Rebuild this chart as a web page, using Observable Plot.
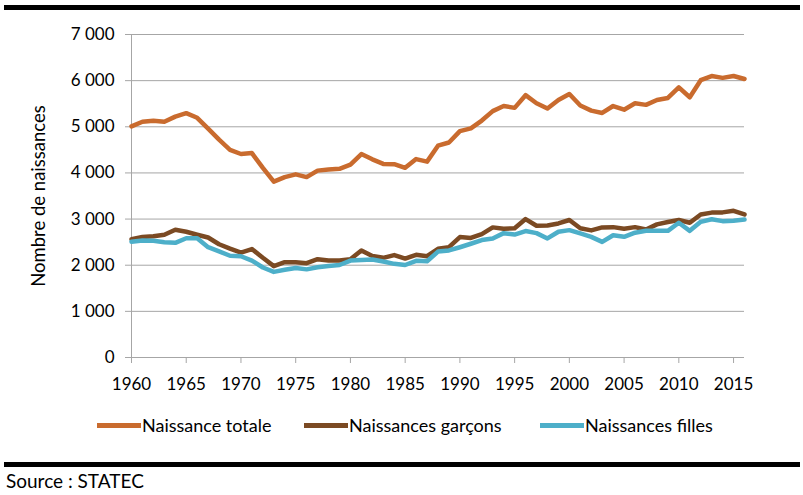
<!DOCTYPE html>
<html>
<head>
<meta charset="utf-8">
<script src="https://cdn.jsdelivr.net/npm/d3@7"></script>
<script src="https://cdn.jsdelivr.net/npm/@observablehq/plot@0.6"></script>
<style>
  html, body { margin: 0; padding: 0; background: #fff; }
  body { position: relative; width: 803px; height: 495px; overflow: hidden; font-family: Lato, "Open Sans", sans-serif; }
  .bar { position: absolute; left: 4px; width: 796px; height: 5px; background: #000; }
  #chart { position: absolute; left: 0; top: 10px; }
  .leg { position: absolute; top: 414px; height: 22px; font-size: 18px; color: #000; line-height: 22px; }
  .sw { position: absolute; top: 9px; height: 5px; width: 44px; }
  .lt { position: absolute; white-space: nowrap; }
  #source { position: absolute; left: 6px; top: 469px; font-size: 19px; color: #000; }
</style>
</head>
<body>
<div class="bar" style="top:5px"></div>
<div id="chart"></div>
<div id="legend"></div>
<div class="bar" style="top:462px"></div>
<div id="source">Source : STATEC</div>
<script>
const years = [1960,1961,1962,1963,1964,1965,1966,1967,1968,1969,
  1970,1971,1972,1973,1974,1975,1976,1977,1978,1979,
  1980,1981,1982,1983,1984,1985,1986,1987,1988,1989,
  1990,1991,1992,1993,1994,1995,1996,1997,1998,1999,
  2000,2001,2002,2003,2004,2005,2006,2007,2008,2009,
  2010,2011,2012,2013,2014,2015,2016];
const totale = [5010,5110,5130,5110,5220,5295,5195,4960,4720,4500,
  4410,4430,4110,3810,3910,3970,3910,4050,4075,4090,
  4180,4410,4295,4195,4190,4110,4300,4245,4590,4660,
  4905,4965,5135,5340,5450,5410,5685,5510,5395,5580,
  5710,5460,5350,5300,5450,5370,5510,5475,5580,5625,
  5855,5640,6010,6100,6060,6100,6035];
const garcons = [2565,2610,2630,2660,2770,2725,2660,2600,2455,2360,
  2275,2350,2160,1980,2065,2065,2045,2130,2100,2100,
  2130,2320,2200,2160,2220,2145,2225,2195,2355,2390,
  2610,2590,2675,2820,2790,2800,3000,2855,2860,2905,
  2980,2800,2755,2820,2825,2790,2825,2775,2885,2935,
  2980,2920,3100,3140,3145,3180,3100];
const filles = [2510,2535,2530,2500,2485,2585,2585,2390,2300,2205,
  2195,2100,1950,1855,1900,1940,1910,1955,1985,2005,
  2100,2115,2125,2080,2030,2005,2095,2085,2295,2320,
  2390,2465,2545,2580,2695,2665,2740,2695,2580,2725,
  2760,2690,2615,2505,2650,2615,2705,2745,2745,2745,
  2920,2745,2940,2995,2955,2965,2990];
const seriesNames = ["Naissance totale", "Naissances garçons", "Naissances filles"];
const seriesValues = [totale, garcons, filles];
const colors = ["#C96B2E", "#7B4A23", "#4DAFC9"];
const xTicks = [1960,1965,1970,1975,1980,1985,1990,1995,2000,2005,2010,2015];
const yTicks = [0,1000,2000,3000,4000,5000,6000,7000];
const yTitle = "Nombre de naissances";

const rows = [];
seriesNames.forEach((name, i) => {
  years.forEach((yr, j) => rows.push({series: name, year: yr, value: seriesValues[i][j]}));
});

const fmt = v => d3.format(",")(v).replace(/,/g, " ");
const grid = "#a6a6a6";

const plot = Plot.plot({
  width: 803,
  height: 390,
  marginLeft: 131,
  marginRight: 59,
  marginTop: 24,
  marginBottom: 43,
  style: {fontFamily: "Lato, 'Open Sans', sans-serif", fontSize: "17px", color: "#000", background: "transparent"},
  x: {domain: [1960, 2016]},
  y: {domain: [0, 7000]},
  marks: [
    Plot.gridY(yTicks, {stroke: grid, strokeOpacity: 1, strokeWidth: 1}),
    Plot.ruleX([1960], {stroke: grid, strokeWidth: 1}),
    Plot.ruleY([0], {stroke: grid, strokeWidth: 1}),
    Plot.axisX({ticks: xTicks, tickFormat: d => String(d), tickSize: 6, tickPadding: 14, stroke: grid, fill: "#000", fontSize: 17, label: null}),
    Plot.axisY({ticks: yTicks, tickFormat: fmt, tickSize: 6, tickPadding: 11, stroke: grid, fill: "#000", fontSize: 17, label: null}),
    Plot.text([yTitle], {frameAnchor: "left", textAnchor: "middle", dx: -92, rotate: -90, fontSize: 18.5, fill: "#000"}),
    ...seriesNames.map((name, i) => Plot.line(rows.filter(r => r.series === name), {
      x: "year", y: "value", stroke: colors[i], strokeWidth: 4.5, strokeLinejoin: "round", strokeLinecap: "round"
    }))
  ]
});
document.getElementById("chart").appendChild(plot);

const legendPos = [[97, 142], [304, 349], [540, 585]];
const legend = document.getElementById("legend");
seriesNames.forEach((name, i) => {
  const sw = document.createElement("div");
  sw.className = "leg";
  sw.style.left = "0px";
  sw.innerHTML = `<div class="sw" style="left:${legendPos[i][0]}px;background:${colors[i]}"></div><div class="lt" style="left:${legendPos[i][1]}px">${name}</div>`;
  legend.appendChild(sw);
});
</script>
</body>
</html>
